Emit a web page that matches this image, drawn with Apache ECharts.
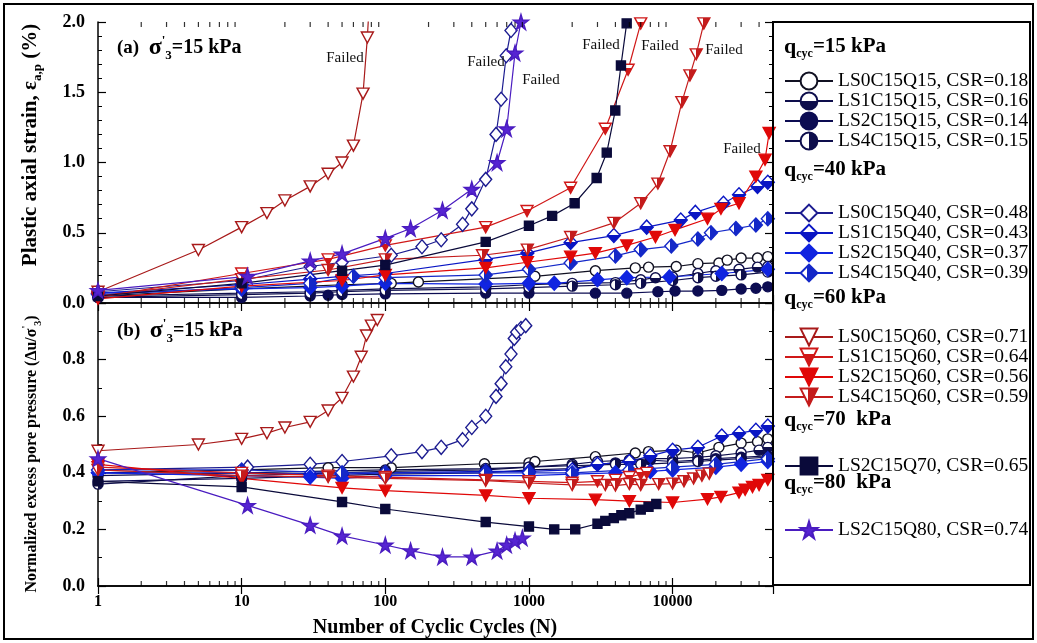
<!DOCTYPE html>
<html><head><meta charset="utf-8">
<script src="https://cdn.jsdelivr.net/npm/echarts@6/dist/echarts.min.js"></script>
<style>html,body{margin:0;padding:0;background:#fff}#c{width:1037px;height:643px}</style>
</head><body><div id="c"></div>
<script>
// ---------- data: [N, value] ----------
// (a) plastic axial strain (%)
const strain_LS0C15Q15 = [[1,0.05],[10,0.10],[30,0.12],[50,0.13],[110,0.14],[170,0.15],[1100,0.19],[2900,0.23],[5500,0.25],[6800,0.255],[10600,0.26],[15000,0.28],[21000,0.285],[24000,0.305],[30000,0.32],[39000,0.32],[46000,0.33]];
const strain_LS1C15Q15 = [[1,0.05],[10,0.07],[30,0.08],[50,0.09],[100,0.10],[500,0.115],[1000,0.13],[2000,0.14],[4000,0.145],[6000,0.165],[7600,0.18],[10000,0.185],[15000,0.21],[20000,0.23],[29000,0.24],[39000,0.255],[46000,0.26]];
const strain_LS2C15Q15 = [[1,0.04],[10,0.04],[30,0.05],[40,0.055],[50,0.06],[100,0.065],[500,0.07],[1000,0.07],[2900,0.07],[4800,0.07],[7900,0.08],[10400,0.085],[15000,0.085],[22000,0.09],[30000,0.10],[38000,0.105],[46000,0.115]];
const strain_LS4C15Q15 = [[1,0.04],[10,0.06],[30,0.07],[50,0.08],[100,0.09],[500,0.10],[1000,0.11],[2000,0.12],[4000,0.13],[6000,0.14],[10000,0.16],[15000,0.18],[20000,0.19],[30000,0.20],[46000,0.22]];
const strain_LS0C15Q40 = [[1,0.08],[10,0.16],[30,0.26],[50,0.29],[110,0.34],[180,0.40],[245,0.45],[345,0.56],[400,0.67],[500,0.88],[590,1.20],[640,1.45],[695,1.76],[750,1.94],[800,2.3]];
const strain_LS1C15Q40 = [[1,0.07],[10,0.13],[30,0.17],[50,0.19],[100,0.21],[500,0.31],[975,0.355],[1950,0.43],[3900,0.48],[6600,0.54],[11400,0.59],[14400,0.645],[22600,0.71],[29000,0.77],[39000,0.83],[46000,0.86]];
const strain_LS2C15Q40 = [[1,0.07],[10,0.10],[30,0.11],[50,0.12],[100,0.14],[500,0.135],[1000,0.14],[1500,0.14],[3000,0.165],[4800,0.18],[9500,0.185],[22000,0.21],[46000,0.24]];
const strain_LS4C15Q40 = [[1,0.06],[10,0.11],[30,0.14],[60,0.19],[100,0.18],[500,0.20],[1000,0.24],[1950,0.285],[4000,0.335],[6000,0.38],[9800,0.405],[15000,0.455],[18500,0.50],[27600,0.53],[38000,0.555],[46000,0.60]];
const strain_LS0C15Q60 = [[1,0.08],[5,0.377],[10,0.54],[15,0.64],[20,0.73],[30,0.83],[40,0.92],[50,1.0],[60,1.12],[70,1.49],[75,1.89],[80,2.4]];
const strain_LS1C15Q60 = [[1,0.04],[10,0.21],[40,0.31],[100,0.41],[500,0.54],[970,0.655],[1950,0.82],[3400,1.24],[4900,1.66],[6000,1.99],[6500,2.4]];
const strain_LS2C15Q60 = [[1,0.03],[10,0.12],[50,0.16],[100,0.20],[500,0.25],[975,0.29],[1950,0.33],[2900,0.355],[4800,0.41],[7600,0.47],[10400,0.52],[17500,0.60],[21700,0.67],[29000,0.71],[38000,0.90],[44000,1.02],[47000,1.21]];
const strain_LS4C15Q60 = [[1,0.05],[10,0.17],[40,0.235],[100,0.31],[475,0.34],[975,0.38],[1950,0.47],[3900,0.57],[6000,0.71],[7900,0.85],[9600,1.08],[11600,1.43],[13200,1.62],[14600,1.77],[16500,1.99],[18000,2.4]];
const strain_LS2C15Q70 = [[1,0.05],[10,0.14],[50,0.23],[100,0.27],[500,0.435],[1000,0.55],[1450,0.62],[2080,0.71],[2960,0.89],[3480,1.07],[3990,1.37],[4370,1.69],[4790,1.99],[5200,2.4]];
const strain_LS2C15Q80 = [[1,0.09],[11,0.19],[30,0.30],[50,0.35],[100,0.46],[150,0.53],[250,0.66],[400,0.81],[600,1.0],[700,1.24],[800,1.78],[880,2.0],[950,2.4]];
// (b) normalized excess pore pressure
const pore_LS0C15Q15 = [[1,0.40],[10,0.41],[40,0.418],[110,0.418],[490,0.432],[1000,0.435],[1100,0.44],[2900,0.457],[5500,0.47],[6800,0.475],[10600,0.48],[15000,0.47],[21000,0.49],[30000,0.505],[39000,0.51],[46000,0.52]];
const pore_LS1C15Q15 = [[1,0.39],[10,0.40],[100,0.41],[500,0.415],[1000,0.42],[2000,0.43],[3000,0.44],[5000,0.445],[7000,0.45],[10000,0.45],[15000,0.455],[20000,0.46],[30000,0.47],[40000,0.48],[46000,0.49]];
const pore_LS2C15Q15 = [[1,0.37],[10,0.38],[100,0.395],[500,0.40],[1000,0.41],[2000,0.415],[3000,0.43],[4000,0.435],[5000,0.44],[7000,0.445],[10000,0.44],[15000,0.445],[20000,0.45],[30000,0.455],[46000,0.46]];
const pore_LS4C15Q15 = [[1,0.36],[10,0.39],[100,0.405],[500,0.41],[1000,0.42],[2000,0.425],[4000,0.43],[6000,0.43],[10000,0.435],[15000,0.44],[20000,0.445],[30000,0.45],[46000,0.455]];
const pore_LS0C15Q40 = [[1,0.41],[11,0.42],[30,0.43],[50,0.44],[110,0.46],[180,0.475],[245,0.49],[345,0.517],[400,0.56],[500,0.60],[590,0.67],[640,0.715],[690,0.775],[750,0.82],[790,0.875],[820,0.897],[880,0.91],[950,0.92]];
const pore_LS1C15Q40 = [[1,0.40],[10,0.40],[30,0.395],[50,0.395],[100,0.40],[500,0.405],[1000,0.405],[2000,0.41],[3000,0.43],[5000,0.44],[7000,0.46],[10000,0.48],[15000,0.49],[22000,0.53],[29000,0.54],[38000,0.55],[46000,0.565]];
const pore_LS2C15Q40 = [[1,0.40],[30,0.385],[50,0.38],[100,0.39],[500,0.39],[1000,0.39],[2000,0.395],[4000,0.40],[7000,0.405],[10000,0.41],[20000,0.42],[30000,0.43],[46000,0.44]];
const pore_LS4C15Q40 = [[1,0.41],[10,0.41],[50,0.40],[100,0.40],[500,0.40],[1000,0.40],[2000,0.40],[5000,0.41],[10000,0.42],[20000,0.43],[46000,0.45]];
const pore_LS0C15Q60 = [[1,0.478],[5,0.50],[10,0.52],[15,0.54],[20,0.56],[30,0.58],[40,0.62],[50,0.665],[60,0.74],[68,0.81],[74,0.885],[80,0.92],[88,0.94]];
const pore_LS1C15Q60 = [[1,0.42],[10,0.40],[40,0.39],[100,0.385],[500,0.375],[1000,0.37],[2000,0.365],[3000,0.37],[4000,0.375],[5000,0.385],[6000,0.395],[6600,0.40]];
const pore_LS2C15Q60 = [[1,0.43],[10,0.38],[50,0.347],[100,0.337],[500,0.32],[1000,0.31],[2900,0.305],[5000,0.30],[10000,0.295],[17500,0.307],[21700,0.315],[29000,0.33],[32000,0.34],[36000,0.35],[40000,0.357],[46000,0.375]];
const pore_LS4C15Q60 = [[1,0.41],[10,0.39],[40,0.385],[100,0.38],[500,0.372],[1000,0.364],[2000,0.357],[3400,0.357],[4000,0.355],[5000,0.36],[6000,0.357],[8000,0.36],[10000,0.362],[12000,0.37],[14000,0.38],[16000,0.39],[18000,0.397]];
const pore_LS2C15Q70 = [[1,0.37],[10,0.35],[50,0.297],[100,0.272],[500,0.226],[1000,0.21],[1500,0.20],[2100,0.20],[3000,0.22],[3400,0.23],[3900,0.24],[4400,0.25],[5000,0.257],[6000,0.27],[6800,0.28],[7700,0.29]];
const pore_LS2C15Q80 = [[1,0.45],[11,0.285],[30,0.215],[50,0.177],[100,0.145],[150,0.125],[250,0.103],[400,0.103],[600,0.124],[700,0.145],[800,0.16],[900,0.17]];

const seriesNames = ['LS0C15Q15','LS1C15Q15','LS2C15Q15','LS4C15Q15','LS0C15Q40','LS1C15Q40','LS2C15Q40','LS4C15Q40','LS0C15Q60','LS1C15Q60','LS2C15Q60','LS4C15Q60','LS2C15Q70','LS2C15Q80'];
const csrLabels = ['0.18','0.16','0.14','0.15','0.48','0.43','0.37','0.39','0.71','0.64','0.56','0.59','0.65','0.74'];
const legendGroups = [[0,1,2,3],[4,5,6,7],[8,9,10,11],[12],[13]];
const groupHeaders = ['=15 kPa','=40 kPa','=60 kPa','=70  kPa','=80  kPa'];
const xTickLabels = [1,10,100,1000,10000];
const minorTickValues = [2,3,4,5,6,7,8,9,20,30,40,50,60,70,80,90,200,300,400,500,600,700,800,900,2000,3000,4000,5000,6000,7000,8000,9000,20000,30000,40000];

const strainData = {LS0C15Q15:strain_LS0C15Q15,LS1C15Q15:strain_LS1C15Q15,LS2C15Q15:strain_LS2C15Q15,LS4C15Q15:strain_LS4C15Q15,LS0C15Q40:strain_LS0C15Q40,LS1C15Q40:strain_LS1C15Q40,LS2C15Q40:strain_LS2C15Q40,LS4C15Q40:strain_LS4C15Q40,LS0C15Q60:strain_LS0C15Q60,LS1C15Q60:strain_LS1C15Q60,LS2C15Q60:strain_LS2C15Q60,LS4C15Q60:strain_LS4C15Q60,LS2C15Q70:strain_LS2C15Q70,LS2C15Q80:strain_LS2C15Q80};
const poreData = {LS0C15Q15:pore_LS0C15Q15,LS1C15Q15:pore_LS1C15Q15,LS2C15Q15:pore_LS2C15Q15,LS4C15Q15:pore_LS4C15Q15,LS0C15Q40:pore_LS0C15Q40,LS1C15Q40:pore_LS1C15Q40,LS2C15Q40:pore_LS2C15Q40,LS4C15Q40:pore_LS4C15Q40,LS0C15Q60:pore_LS0C15Q60,LS1C15Q60:pore_LS1C15Q60,LS2C15Q60:pore_LS2C15Q60,LS4C15Q60:pore_LS4C15Q60,LS2C15Q70:pore_LS2C15Q70,LS2C15Q80:pore_LS2C15Q80};

// ---------- styles ----------
const SERIF = 'Liberation Serif';
const TRI = 'path://M0,0L10,0L5,9Z';
const STAR = 'path://M50,0L61,35L98,35L68,57L79,91L50,70L21,91L32,57L2,35L39,35Z';
function grad(dir, c1, c2, p) {
  return {type:'linear', x:0, y:0, x2: dir==='h'?1:0, y2: dir==='v'?1:0,
    colorStops:[{offset:0,color:c1},{offset:p,color:c1},{offset:p,color:c2},{offset:1,color:c2}]};
}
const NAVY = '#0e0e4c';
const ST = {
  LS0C15Q15:{sym:'circle', size:10, c:'#111122', fill:'#fff'},
  LS1C15Q15:{sym:'circle', size:10, c:NAVY, fill:grad('v','#fff',NAVY,0.5)},
  LS2C15Q15:{sym:'circle', size:10, c:'#0c0c52', fill:'#0c0c52'},
  LS4C15Q15:{sym:'circle', size:10, c:NAVY, fill:grad('h','#fff',NAVY,0.5)},
  LS0C15Q40:{sym:'diamond', size:[12,14], c:'#1c1c90', fill:'#fff'},
  LS1C15Q40:{sym:'diamond', size:[13,14], c:'#0a16c4', fill:grad('v','#fff','#0a16c4',0.45)},
  LS2C15Q40:{sym:'diamond', size:[13,14], c:'#1024e0', fill:'#1024e0'},
  LS4C15Q40:{sym:'diamond', size:[13,14], c:'#1428c8', fill:grad('h','#fff','#1428c8',0.4)},
  LS0C15Q60:{sym:TRI, size:[12,11], c:'#a81a1a', fill:'#fff'},
  LS1C15Q60:{sym:TRI, size:[12,11], c:'#d01818', fill:grad('v','#fff','#d01818',0.35)},
  LS2C15Q60:{sym:TRI, size:[12,11], c:'#e00808', fill:'#e00808'},
  LS4C15Q60:{sym:TRI, size:[12,11], c:'#c41c1c', fill:grad('h','#fff','#c41c1c',0.45)},
  LS2C15Q70:{sym:'rect', size:9, c:'#0a0a3a', fill:'#0a0a3a'},
  LS2C15Q80:{sym:STAR, size:15, c:'#4a1cc0', fill:'#5624d2'}
};

const series = [];
[[strainData,0],[poreData,2]].forEach(([src, ax]) => {
  seriesNames.forEach((n, i) => {
    const s = ST[n];
    series.push({
      name: n + ', CSR=' + csrLabels[i], type:'line', xAxisIndex: ax, yAxisIndex: ax,
      data: src[n], symbol: s.sym, symbolSize: s.size, showAllSymbol: true,
      lineStyle:{color:s.c, width:1.2},
      itemStyle:{color:s.fill, borderColor:s.c, borderWidth:1.4},
      emphasis:{disabled:true}, z: 3
    });
  });
});
// minor ticks of the log axes
[[0,0,2],[2,0,1]].forEach(([ax, lo, hi]) => {
  series.push({type:'scatter', xAxisIndex:ax, yAxisIndex:ax, data: minorTickValues.map(v=>[v,lo]),
    symbol:'rect', symbolSize:[1.2,5], symbolOffset:[0,-2.5], itemStyle:{color:'#000'}, silent:true, clip:false, z:5});
  series.push({type:'scatter', xAxisIndex:ax, yAxisIndex:ax, data: minorTickValues.map(v=>[v,hi]),
    symbol:'rect', symbolSize:[1.2,5], symbolOffset:[0,2.5], itemStyle:{color:'#000'}, silent:true, clip:false, z:5});
});

const axLine = {show:true, lineStyle:{color:'#000', width:1.5}};
function xAx(grid, pos, labels) {
  return {type:'log', logBase:10, min:1, max:50000, gridIndex:grid, position:pos,
    axisLine:axLine, splitLine:{show:false},
    axisTick:{show:true, inside:true, length:8, lineStyle:{color:'#000', width:1.2}},
    axisLabel:{show:labels, showMaxLabel:false, color:'#000', fontFamily:SERIF, fontWeight:'bold', fontSize:16, margin:8,
      formatter: v => (xTickLabels.indexOf(v) >= 0 ? String(v) : '')}};
}
function yAx(grid, pos, max, interval, minorSplit, labels) {
  return {type:'value', min:0, max:max, interval:interval, gridIndex:grid, position:pos,
    axisLine:axLine, splitLine:{show:false},
    axisTick:{show:true, inside:true, length:8, lineStyle:{color:'#000', width:1.2}},
    minorTick:{show:true, splitNumber:minorSplit, length:4, lineStyle:{color:'#000', width:1}},
    axisLabel:{show:labels, showMaxLabel: grid===0, color:'#000', fontFamily:SERIF, fontWeight:'bold', fontSize:18, margin:13,
      formatter: v => v.toFixed(1)}};
}

// legends
const legends = legendGroups.map((g, k) => ({
  data: g.map(i => seriesNames[i] + ', CSR=' + csrLabels[i]),
  orient:'vertical', left:779, top:[66,198,322,451,515][k],
  itemWidth:48, itemHeight:21, itemGap:0, selectedMode:false,
  textStyle:{fontFamily:SERIF, fontSize:19.5, color:'#000', padding:[0,0,0,0]}
}));

const headerRich = {
  q:{fontFamily:SERIF, fontWeight:'bold', fontSize:22, lineHeight:26, fill:'#000'},
  s:{fontFamily:SERIF, fontWeight:'bold', fontSize:12, lineHeight:12, verticalAlign:'bottom', fill:'#000'},
  t:{fontFamily:SERIF, fontWeight:'bold', fontSize:21, lineHeight:26, fill:'#000'}
};
const headerY = [47,170,298,420,483];
const graphics = [
  {type:'rect', shape:{x:4, y:4, width:1029, height:635}, style:{fill:'none', stroke:'#000', lineWidth:2}, z:10},
  {type:'rect', shape:{x:773, y:22, width:257, height:563}, style:{fill:'none', stroke:'#000', lineWidth:2}, z:10}
];
groupHeaders.forEach((h, k) => {
  graphics.push({type:'text', x:784, y:headerY[k], z:10,
    style:{text:'{q|q}{s|cyc}{t|' + h + '}', rich:headerRich, verticalAlign:'middle', align:'left'}});
});
const panelRich = {
  a:{fontFamily:SERIF, fontWeight:'bold', fontSize:19, lineHeight:28, fill:'#000'},
  g:{fontFamily:SERIF, fontWeight:'bold', fontSize:24, lineHeight:28, fill:'#000'},
  p:{fontFamily:SERIF, fontWeight:'bold', fontSize:13, lineHeight:13, verticalAlign:'top', fill:'#000'},
  s:{fontFamily:SERIF, fontWeight:'bold', fontSize:13, lineHeight:13, verticalAlign:'bottom', fill:'#000'},
  t:{fontFamily:SERIF, fontWeight:'bold', fontSize:20, lineHeight:28, fill:'#000'}
};
[['(a)',48],['(b)',331]].forEach(([lab, y]) => {
  graphics.push({type:'text', x:117, y:y, z:10,
    style:{text:'{a|' + lab + '  }{g|σ}{p|\'}{s|3}{t|=15 kPa}', rich:panelRich, verticalAlign:'middle', align:'left'}});
});
const failed = [[345,58],[486,62],[541,80],[601,45],[660,46],[724,50],[742,149]];
failed.forEach(([x,y]) => graphics.push({type:'text', x:x, y:y, z:10,
  style:{text:'Failed', fontFamily:SERIF, fontSize:15, fill:'#111', align:'center', verticalAlign:'middle'}}));
const nameRichA = {
  n:{fontFamily:SERIF, fontWeight:'bold', fontSize:21, lineHeight:26, fill:'#000'},
  s:{fontFamily:SERIF, fontWeight:'bold', fontSize:13, lineHeight:13, verticalAlign:'bottom', fill:'#000'}
};
const nameRichB = {
  n:{fontFamily:SERIF, fontWeight:'bold', fontSize:16, lineHeight:22, fill:'#000'},
  s:{fontFamily:SERIF, fontWeight:'bold', fontSize:10, lineHeight:10, verticalAlign:'bottom', fill:'#000'},
  p:{fontFamily:SERIF, fontWeight:'bold', fontSize:10, lineHeight:10, verticalAlign:'top', fill:'#000'}
};
graphics.push({type:'text', x:31, y:145, rotation:Math.PI/2, z:10,
  style:{text:'{n|Plastic axial strain, ε}{s|a,p}{n| (%)}', rich:nameRichA, align:'center', verticalAlign:'middle'}});
graphics.push({type:'text', x:32, y:454, rotation:Math.PI/2, z:10,
  style:{text:'{n|Normalized excess pore pressure (Δu/σ}{p|\'}{s|3}{n|)}', rich:nameRichB, align:'center', verticalAlign:'middle'}});
graphics.push({type:'text', x:435, y:628, z:10,
  style:{text:'Number of Cyclic Cycles (N)', fontFamily:SERIF, fontWeight:'bold', fontSize:20, fill:'#000', align:'center', verticalAlign:'middle'}});

const chart = echarts.init(document.getElementById('c'), null, {renderer:'canvas'});
chart.setOption({
  animation:false, backgroundColor:'#fff',
  grid:[{left:98, top:22, width:675, height:281}, {left:98, top:303, width:675, height:283}],
  xAxis:[xAx(0,'bottom',false), xAx(0,'top',false), xAx(1,'bottom',true), xAx(1,'top',false)],
  yAxis:[yAx(0,'left',2,0.5,5,true), yAx(0,'right',2,0.5,5,false), yAx(1,'left',1,0.2,2,true), yAx(1,'right',1,0.2,2,false)],
  legend: legends,
  series: series,
  graphic: graphics
});
</script></body></html>
